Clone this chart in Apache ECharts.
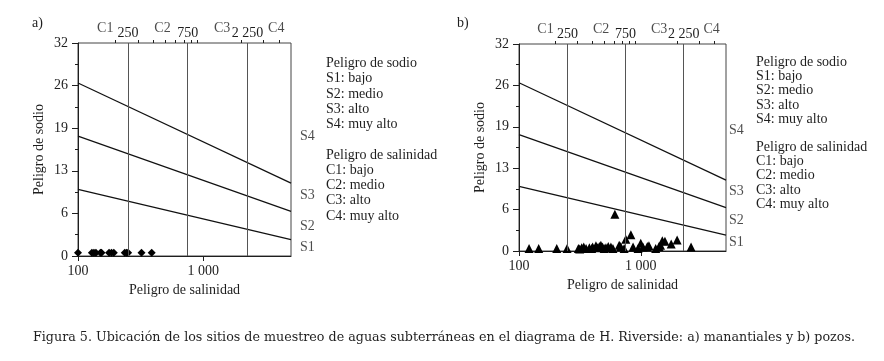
<!DOCTYPE html>
<html><head><meta charset="utf-8">
<script src="https://cdn.jsdelivr.net/npm/echarts@6/dist/echarts.min.js"></script>
<style>html,body{margin:0;padding:0;background:#fff}#c{width:884px;height:361px}</style>
</head><body><div id="c"></div>
<script>
const FONT = '"Liberation Serif", "Times New Roman", serif';
const CAPTION_FONT = '"DejaVu Serif", "Liberation Serif", serif';
const INK = '#1e1e1e';

// Axis ranges and tick labels
const ecMin = 100, ecMax = 5000;
const sarMin = 0, sarMax = 32, sarStep = 6.4;
const ecMajorValues = [100, 1000];
const ecMajorLabels = ['100', '1 000'];
const ecMinorTicks = [200, 300, 400, 500, 600, 700, 800, 900, 2000, 3000, 4000];

// Salinity class boundaries (vertical lines) and class names
const salinityBounds = [250, 750, 2250];
const salinityBoundLabels = ['250', '750', '2 250'];
const salinityClassPos = [165, 472, 1412, 3816];
const salinityClassLabels = ['C1', 'C2', 'C3', 'C4'];

// Sodium hazard boundary lines (SAR at EC = 100 and EC = 5000)
const boundaryEC = [100, 5000];
const boundaryS1S2 = [10, 2.45];
const boundaryS2S3 = [18, 6.7];
const boundaryS3S4 = [26, 10.95];

// Sodium class labels on the right
const sodiumClassLabels = ['S4', 'S3', 'S2', 'S1'];
const sodiumClassPosA = [18, 9.1, 4.5, 1.3];
const sodiumClassPosB = [18.6, 9.3, 4.7, 1.4];

// a) manantiales
const springsEC  = [100, 129, 134, 139, 151, 154, 177, 185, 193, 236, 244, 251, 321, 387];
const springsSAR = [0.5, 0.5, 0.5, 0.5, 0.5, 0.5, 0.5, 0.5, 0.5, 0.5, 0.5, 0.5, 0.5, 0.5];

// b) pozos
const wellsEC  = [121, 145, 204, 248, 307, 315, 327, 340, 355, 378, 395, 402, 428, 440, 456, 470, 485, 500, 517, 540, 568, 590, 612, 664, 683, 729, 753, 828, 863, 949, 998, 1040, 1130, 1165, 1324, 1409, 1450, 1500, 1577, 1774, 1986, 2585];
const wellsSAR = [0.4, 0.4, 0.4, 0.4, 0.4, 0.3, 0.5, 0.6, 0.4, 0.5, 0.4, 0.6, 0.8, 0.5, 0.7, 0.9, 0.6, 0.4, 0.5, 0.7, 0.6, 0.4, 5.7, 0.9, 0.7, 0.4, 1.8, 2.5, 0.6, 0.4, 1.2, 0.6, 0.7, 0.8, 0.4, 0.7, 0.9, 1.6, 1.5, 1.1, 1.7, 0.6];

// Text
const legendSodium = ['Peligro de sodio', 'S1: bajo', 'S2: medio', 'S3: alto', 'S4: muy alto'];
const legendSalinity = ['Peligro de salinidad', 'C1: bajo', 'C2: medio', 'C3: alto', 'C4: muy alto'];
const panelLabels = ['a)', 'b)'];
const xName = 'Peligro de salinidad';
const yName = 'Peligro de sodio';
const caption = 'Figura 5. Ubicación de los sitios de muestreo de aguas subterráneas en el diagrama de H. Riverside: a) manantiales y b) pozos.';

const zip = (xs, ys) => xs.map((x, i) => [x, ys[i]]);
const txt = { fontFamily: FONT, fontSize: 14, color: INK };

const grids = [
  { left: 78, top: 43, width: 213, height: 213 },
  { left: 519, top: 44, width: 207, height: 207 }
];

function xAxes(g) {
  return [
    {
      type: 'log', logBase: 10, gridIndex: g, min: ecMin, max: ecMax,
      axisLine: { lineStyle: { color: INK, width: 1 } },
      axisTick: { show: true, length: 5, lineStyle: { color: INK } },
      axisLabel: Object.assign({}, txt, {
        margin: 8,
        showMinLabel: true, showMaxLabel: false,
        formatter: v => { const i = ecMajorValues.indexOf(Math.round(v)); return i >= 0 ? ecMajorLabels[i] : ''; }
      }),
      splitLine: { show: false },
      name: xName, nameLocation: 'middle', nameGap: 22, nameTextStyle: txt
    },
    {
      type: 'log', logBase: 10, gridIndex: g, min: ecMin, max: ecMax,
      axisLine: { show: false },
      axisTick: { show: true, length: 3, customValues: ecMinorTicks, lineStyle: { color: INK } },
      axisLabel: { show: false },
      splitLine: { show: false }
    }
  ];
}

function yAxis(g) {
  return {
    type: 'value', gridIndex: g, min: sarMin, max: sarMax, interval: sarStep,
    axisLine: { show: true, lineStyle: { color: INK, width: 1 } },
    axisTick: { show: true, length: 6, lineStyle: { color: INK } },
    minorTick: { show: true, splitNumber: 2, length: 3, lineStyle: { color: INK } },
    axisLabel: Object.assign({}, txt, { margin: 10, formatter: v => String(Math.round(v)) }),
    splitLine: { show: false },
    name: yName, nameLocation: 'middle', nameGap: 32, nameRotate: 90, nameTextStyle: txt
  };
}

function panelSeries(g, pointsEC, pointsSAR, symbol, symbolSize, sPos, sDist) {
  const xi = g * 2, yi = g;
  const lineStyle = { color: '#111', width: 1.2 };
  const series = [];
  [boundaryS3S4, boundaryS2S3, boundaryS1S2].forEach((b, k) => {
    const s = {
      type: 'line', xAxisIndex: xi, yAxisIndex: yi, data: zip(boundaryEC, b),
      symbol: 'none', lineStyle: lineStyle, silent: true, animation: false
    };
    if (k === 0) {
      s.markLine = {
        silent: true, symbol: ['none', 'none'], animation: false,
        lineStyle: { color: '#555', width: 1, type: 'solid' },
        label: Object.assign({}, txt, { show: true, position: 'end', distance: 3 }),
        data: salinityBounds.map((v, i) => ({ xAxis: v, label: { formatter: salinityBoundLabels[i] } }))
      };
    }
    series.push(s);
  });
  series.push({
    type: 'scatter', xAxisIndex: xi, yAxisIndex: yi, silent: true, animation: false,
    symbolSize: 0, data: salinityClassPos.map(v => [v, sarMax]),
    label: Object.assign({}, txt, { show: true, position: 'top', distance: 8,
      formatter: p => salinityClassLabels[p.dataIndex] })
  });
  series.push({
    type: 'scatter', xAxisIndex: xi, yAxisIndex: yi, silent: true, animation: false,
    symbolSize: 0, data: sPos.map(v => [ecMax, v]),
    label: Object.assign({}, txt, { show: true, position: 'right', distance: sDist,
      formatter: p => sodiumClassLabels[p.dataIndex] })
  });
  series.push({
    type: 'scatter', xAxisIndex: xi, yAxisIndex: yi, animation: false,
    symbol: symbol, symbolSize: symbolSize, itemStyle: { color: '#000', opacity: 1 },
    data: zip(pointsEC, pointsSAR)
  });
  return series;
}

function legendBlock(left, top1, top2, lh) {
  return [
    { left: left, top: top1, padding: 0, text: legendSodium.join('\n'),
      textStyle: Object.assign({}, txt, { fontWeight: 'normal', lineHeight: lh }) },
    { left: left, top: top2, padding: 0, text: legendSalinity.join('\n'),
      textStyle: Object.assign({}, txt, { fontWeight: 'normal', lineHeight: lh }) }
  ];
}

const chart = echarts.init(document.getElementById('c'), null, { renderer: 'canvas' });
chart.setOption({
  backgroundColor: '#fff',
  animation: false,
  textStyle: { fontFamily: FONT },
  title: [
    { left: 32, top: 16, padding: 0, text: panelLabels[0], textStyle: Object.assign({}, txt, { fontWeight: 'normal' }) },
    { left: 457, top: 16, padding: 0, text: panelLabels[1], textStyle: Object.assign({}, txt, { fontWeight: 'normal' }) },
    ...legendBlock(326, 56, 147.5, 15.2),
    ...legendBlock(756, 55, 140, 14.3),
    { left: 33, top: 331, padding: 0, text: caption,
      textStyle: { fontFamily: CAPTION_FONT, fontSize: 12.7, color: INK, fontWeight: 'normal' } }
  ],
  grid: grids.map(g => Object.assign({ show: true, borderColor: '#444', borderWidth: 1, backgroundColor: 'transparent', containLabel: false }, g)),
  xAxis: [...xAxes(0), ...xAxes(1)],
  yAxis: [yAxis(0), yAxis(1)],
  series: [
    ...panelSeries(0, springsEC, springsSAR, 'diamond', 8, sodiumClassPosA, 9),
    ...panelSeries(1, wellsEC, wellsSAR, 'triangle', 9, sodiumClassPosB, 3)
  ]
});
</script></body></html>
